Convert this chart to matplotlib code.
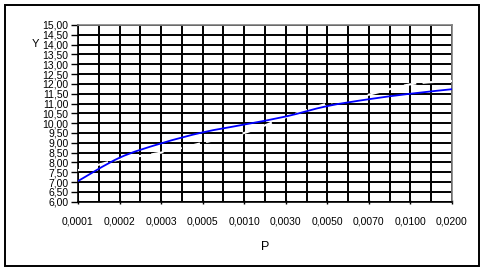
import matplotlib
matplotlib.use("Agg")
import matplotlib.pyplot as plt
from matplotlib.patches import Rectangle, PathPatch
from matplotlib.path import Path
import numpy as np

# categories on the P axis (Excel-style category axis)
p_labels = ["0,0001", "0,0002", "0,0003", "0,0005", "0,0010",
            "0,0030", "0,0050", "0,0070", "0,0100", "0,0200"]
# blue curve
y_blue = [7.05, 8.24, 8.97, 9.53, 9.93, 10.34, 10.87, 11.22, 11.50, 11.73]
# white dashed series (only visible where it cuts the gridlines)
y_white = [7.6, 8.15, 8.5, 9.0, 9.5, 10.3, 11.0, 11.45, 11.98, 12.15]


def smooth_path(xs, ys):
    # Excel "smoothed line": cubic bezier through the points (Catmull-Rom handles)
    xs = np.asarray(xs, float)
    ys = np.asarray(ys, float)
    n = len(xs)
    verts = [(xs[0], ys[0])]
    codes = [Path.MOVETO]
    for i in range(n - 1):
        i0 = max(i - 1, 0)
        i3 = min(i + 2, n - 1)
        c1 = (xs[i] + (xs[i + 1] - xs[i0]) / 6, ys[i] + (ys[i + 1] - ys[i0]) / 6)
        c2 = (xs[i + 1] - (xs[i3] - xs[i]) / 6, ys[i + 1] - (ys[i3] - ys[i]) / 6)
        verts += [c1, c2, (xs[i + 1], ys[i + 1])]
        codes += [Path.CURVE4] * 3
    return Path(verts, codes)


plt.rcParams['font.family'] = ['Liberation Sans', 'DejaVu Sans']

W, H = 486, 273
fig = plt.figure(figsize=(W / 100, H / 100), dpi=100)

# outer chart frame
fig.patches.append(Rectangle((5 / W, 1 - 266 / H), 474 / W, 261 / H,
                             transform=fig.transFigure, fill=False,
                             edgecolor="black", lw=1.4))

ax = fig.add_axes([78 / W, 1 - 201.7 / H, 374 / W, 176.7 / H])

x = np.arange(len(p_labels))
ax.add_patch(PathPatch(smooth_path(x, y_white), fill=False, edgecolor="white",
                       lw=1.5, linestyle=(0, (6, 3)), zorder=3))
ax.add_patch(PathPatch(smooth_path(x, y_blue), fill=False, edgecolor="#0000ff",
                       lw=1.3, zorder=4))

ax.set_xlim(0, len(p_labels) - 1)
ax.set_ylim(6, 15)
ax.set_xticks(x)
ax.set_xticklabels(p_labels, fontsize=7.5)
ax.set_xticks(np.arange(0.5, len(p_labels) - 1, 1.0), minor=True)
yt = np.arange(6, 15.01, 0.5)
ax.set_yticks(yt)
ax.set_yticklabels(["{:.2f}".format(v).replace(".", ",") for v in yt], fontsize=7.5)

ax.grid(True, which="both", color="black", lw=1.4, zorder=1)
ax.set_axisbelow(True)
ax.tick_params(axis="x", which="major", length=3, width=1, pad=9, direction="inout")
ax.tick_params(axis="x", which="minor", length=0)
ax.tick_params(axis="y", length=5, width=1, pad=2)

for s in ["top", "right"]:
    ax.spines[s].set_color("#808080")
    ax.spines[s].set_linewidth(1.2)
for s in ["left", "bottom"]:
    ax.spines[s].set_color("black")
    ax.spines[s].set_linewidth(1.2)

fig.text(35 / W, 1 - 44 / H, "Y", fontsize=8, ha="center", va="center")
fig.text(265 / W, 1 - 247 / H, "P", fontsize=9, ha="center", va="center")

fig.savefig("out.png", dpi=100)
